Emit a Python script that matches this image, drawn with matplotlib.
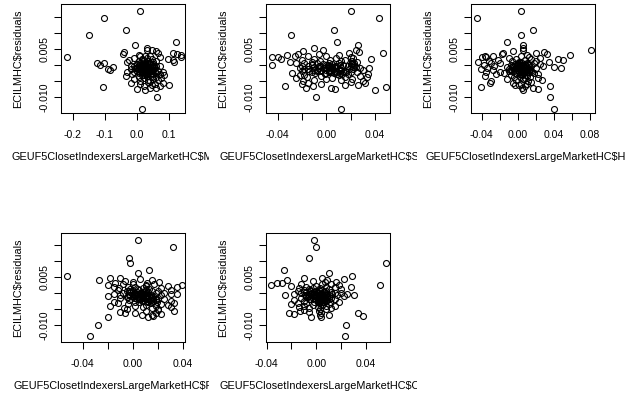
import matplotlib.pyplot as plt
from matplotlib.transforms import Bbox, TransformedBbox

plt.rcParams['font.family'] = ['Liberation Sans', 'DejaVu Sans']

# residuals (shared y of every panel)
resid = [0.0167, 0.0145, 0.0108, 0.0095, 0.0073, -0.0136, -0.0100, 0.0063, 0.0025, 0.0052,
         0.0048, 0.0046, 0.0044, 0.0041, 0.0039, 0.0037, 0.0035, 0.0033, 0.0031, 0.0030,
         0.0029, 0.0028, 0.0027, 0.0025, 0.0024, 0.0023, 0.0021, 0.0020, 0.0019, 0.0018,
         0.0017, 0.0016, 0.0015, 0.0014, 0.0013, 0.0012, 0.0011, 0.0010,
         0.0009, 0.0008, 0.0008, 0.0007, 0.0006, 0.0005, 0.0005, 0.0004, 0.0003, 0.0002,
         0.0002, 0.0001, 0.0000, 0.0000, -0.0001, -0.0002, -0.0002, -0.0003, -0.0004, -0.0004,
         -0.0005, -0.0006, -0.0006, -0.0007, -0.0008, -0.0008, -0.0009, -0.0009, -0.0010, -0.0003,
         -0.0011, -0.0012, -0.0013, -0.0014, -0.0014, -0.0015, -0.0016, -0.0017, -0.0017, -0.0018,
         -0.0019, -0.0020, -0.0020, -0.0021, -0.0022, -0.0023, -0.0024, -0.0024, -0.0025, -0.0026,
         -0.0027, -0.0028, -0.0028, -0.0029, -0.0030,
         -0.0031, -0.0032, -0.0033, -0.0035, -0.0036, -0.0037, -0.0038, -0.0040, -0.0041, -0.0042,
         -0.0044, -0.0045, -0.0046, -0.0048, -0.0050,
         -0.0052, -0.0055, -0.0057, -0.0058, -0.0060, -0.0062, -0.0063, -0.0064, -0.0066, -0.0068,
         -0.0070, -0.0072, -0.0074, -0.0077,
         -0.0001, -0.0004, -0.0007, -0.0010, -0.0013, -0.0016, -0.0019, -0.0022, -0.0005, -0.0008,
         -0.0011, -0.0014, -0.0017, -0.0020, -0.0002, -0.0006, -0.0009, -0.0012, -0.0015, -0.0018,
         0.0003, 0.0000, -0.0003, -0.0025, -0.0021, 0.0005, -0.0027, -0.0012, -0.0006, 0.0001]

mkt_rf = [0.009, -0.102, -0.036, -0.150, 0.121, 0.016, 0.061, -0.007, -0.219, 0.030,
          0.030, 0.045, 0.058, -0.040, 0.065, 0.110, -0.045, 0.125, 0.135, 0.005,
          0.010, 0.025, 0.040, 0.135, 0.070, -0.010, 0.030, 0.095, 0.015, 0.045,
          0.110, -0.025, 0.020, 0.035, 0.060, 0.005, 0.050, -0.030,
          0.115, -0.123, 0.010, 0.020, 0.030, -0.102, 0.040, 0.000, 0.050, 0.015,
          0.025, 0.035, -0.116, 0.045, 0.005, 0.060, 0.020, 0.030, -0.020, 0.070,
          0.010, 0.040, 0.025, -0.075, 0.050, 0.000, 0.015, 0.035, 0.055, -0.010,
          0.020, 0.035, -0.090, 0.045, 0.010, -0.083, 0.050, 0.030, 0.000, 0.065,
          0.040, 0.025, -0.030, 0.055, 0.015, 0.080, 0.045, 0.005, 0.035, 0.060,
          -0.015, 0.030, 0.050, 0.070, 0.020,
          0.015, 0.085, 0.030, -0.035, 0.045, 0.060, 0.005, 0.075, 0.020, 0.050,
          -0.010, 0.035, 0.065, 0.010, 0.040,
          0.035, 0.080, -0.020, 0.055, 0.010, 0.045, 0.098, 0.070, 0.020, -0.107,
          0.060, 0.040, 0.000, 0.025,
          0.010, 0.025, 0.040, 0.005, 0.020, 0.035, 0.015, 0.030, 0.045, -0.005,
          0.012, 0.028, 0.042, 0.008, 0.018, 0.033, 0.048, 0.003, 0.022, 0.038,
          0.000, 0.027, 0.014, 0.044, -0.010, 0.036, 0.024, -0.020, 0.052, 0.016]

smb = [0.020, 0.043, 0.006, -0.029, 0.009, 0.012, -0.0085, 0.026, -0.0445, -0.010,
       -0.003, 0.024, -0.019, 0.027, 0.019, 0.0466, -0.023, -0.006, -0.032, 0.010,
       -0.026, 0.000, -0.015, 0.020, -0.040, 0.008, 0.022, -0.010, 0.037, -0.037,
       0.015, -0.020, 0.003, 0.021, -0.005, 0.012, -0.012, 0.025,
       -0.030, 0.002, -0.018, 0.021, -0.008, 0.010, -0.025, 0.020, -0.003, 0.005,
       -0.012, 0.023, -0.045, 0.000, 0.014, -0.020, -0.006, 0.008, 0.018, -0.015,
       0.003, 0.024, -0.010, 0.006, 0.012, -0.002, 0.028, 0.035, -0.022, 0.001,
       0.005, -0.015, 0.022, 0.000, -0.008, 0.010, 0.030, -0.020, 0.003, 0.015,
       -0.004, 0.008, 0.020, -0.012, 0.002, 0.025, -0.028, 0.011, 0.006, -0.009,
       0.018, 0.034, -0.001, 0.013, -0.018,
       -0.022, 0.010, 0.028, -0.004, 0.033, -0.016, 0.015, 0.005, -0.025, 0.021,
       0.000, -0.010, 0.012, -0.019, 0.030,
       0.020, -0.015, 0.032, -0.020, -0.004, 0.026, 0.015, -0.034, -0.011, 0.049,
       0.004, -0.017, 0.0074, 0.040,
       -0.012, -0.005, 0.002, 0.008, -0.015, 0.012, -0.008, 0.004, 0.000, -0.003,
       0.010, -0.010, 0.006, 0.014, 0.020, 0.022, -0.006, 0.019, 0.003, -0.014,
       0.021, 0.001, 0.007, -0.001, 0.016, 0.023, 0.009, -0.018, 0.005, 0.011]

hml = [0.003, -0.045, 0.017, 0.004, -0.012, 0.040, 0.036, 0.0055, -0.035, 0.006,
       0.081, 0.006, -0.005, 0.029, -0.016, 0.020, -0.018, 0.032, 0.058, 0.010,
       -0.036, -0.028, 0.004, 0.012, -0.040, 0.025, -0.010, 0.045, -0.002, 0.015,
       -0.022, 0.050, 0.008, -0.032, 0.020, -0.006, 0.035, 0.001,
       -0.044, -0.030, 0.002, 0.010, -0.020, 0.005, 0.018, -0.003, 0.025, 0.000,
       0.008, -0.038, 0.012, 0.003, -0.008, 0.015, 0.028, -0.026, 0.006, 0.001,
       0.040, -0.012, 0.009, 0.004, -0.002, 0.020, -0.034, 0.048, 0.011, -0.005,
       -0.010, 0.002, -0.041, 0.006, 0.012, -0.028, 0.000, 0.015, 0.004, -0.006,
       0.008, -0.020, 0.003, 0.010, -0.035, 0.001, 0.018, -0.003, 0.007, -0.015,
       0.005, 0.022, -0.024, 0.002, 0.009,
       0.005, -0.008, 0.010, -0.036, 0.002, 0.014, -0.004, 0.008, 0.022, -0.012,
       0.006, 0.027, -0.002, 0.011, -0.030,
       0.015, -0.005, -0.031, 0.004, 0.010, 0.001, -0.003, 0.008, 0.036, -0.0406,
       0.017, 0.005, 0.022, 0.006,
       0.000, 0.004, -0.004, 0.008, 0.002, -0.002, 0.006, 0.010, -0.006, 0.001,
       0.005, -0.008, 0.003, 0.012, -0.001, 0.007, -0.003, 0.009, 0.014, -0.010,
       0.011, 0.004, -0.005, 0.006, 0.016, 0.000, 0.002, 0.013, -0.007, 0.008]

rmw = [0.004, 0.032, -0.003, -0.002, 0.0125, -0.034, -0.028, 0.004, 0.010, -0.0528,
       -0.010, -0.018, 0.006, -0.0267, 0.015, -0.006, 0.021, 0.000, 0.011, -0.014,
       0.000, -0.008, 0.017, 0.0387, -0.020, 0.028, 0.010, 0.002, 0.035, -0.004,
       -0.015, 0.022, 0.008, -0.011, 0.013, 0.004, -0.002, 0.030,
       0.005, -0.012, 0.010, 0.000, 0.015, -0.005, 0.020, 0.008, -0.002, 0.012,
       0.003, 0.025, -0.008, 0.006, 0.018, 0.001, -0.015, 0.009, 0.004, 0.030,
       -0.003, 0.014, 0.007, 0.022, -0.010, 0.011, 0.002, 0.016, -0.020, 0.035,
       0.010, -0.005, 0.004, 0.015, 0.008, 0.020, 0.001, 0.012, -0.010, 0.006,
       0.018, 0.003, 0.025, 0.009, 0.014, -0.003, 0.007, 0.016, 0.011, 0.030,
       0.005, -0.015, 0.019, 0.012, 0.002,
       -0.012, 0.033, 0.014, 0.022, -0.004, 0.010, 0.028, 0.002, 0.018, -0.018,
       0.008, 0.030, 0.015, -0.007, 0.020,
       -0.005, 0.020, 0.033, 0.010, -0.010, 0.018, 0.002, -0.0067, 0.022, 0.015,
       0.007, 0.016, -0.020, 0.012,
       0.002, 0.006, 0.010, 0.000, 0.004, 0.008, 0.012, 0.014, -0.002, 0.003,
       0.007, 0.011, 0.015, 0.005, 0.009, 0.001, 0.013, -0.004, 0.006, 0.016,
       0.000, 0.010, 0.004, 0.008, 0.018, -0.003, 0.012, 0.007, 0.002, 0.011]

cma = [-0.002, 0.000, -0.006, 0.056, -0.026, 0.023, 0.024, 0.010, -0.0364, 0.029,
       0.0046, -0.010, 0.022, -0.0235, 0.009, -0.003, 0.0157, 0.0067, -0.032, -0.028,
       -0.012, 0.012, 0.005, 0.051, 0.018, -0.020, 0.000, 0.028, -0.008, 0.008,
       0.015, -0.003, 0.003, -0.014, 0.010, 0.020, -0.006, 0.002,
       -0.005, 0.005, -0.010, 0.000, 0.008, -0.015, 0.003, -0.002, 0.012, -0.008,
       0.006, 0.015, -0.012, 0.001, 0.020, -0.004, 0.009, -0.018, 0.004, 0.025,
       0.030, 0.002, -0.001, 0.010, 0.017, -0.025, 0.007, 0.022, -0.006, 0.013,
       0.000, 0.005, -0.008, 0.010, 0.003, -0.003, 0.007, 0.012, -0.012, 0.002,
       0.006, 0.015, -0.005, 0.004, 0.009, -0.018, 0.001, 0.008, -0.010, 0.003,
       0.018, 0.005, -0.002, 0.011, 0.006,
       -0.015, 0.002, -0.008, 0.010, -0.020, 0.005, -0.003, 0.015, -0.010, 0.008,
       0.001, -0.014, 0.012, -0.006, 0.003,
       0.008, -0.010, -0.0135, 0.002, -0.006, 0.034, -0.022, 0.004, -0.018, 0.010,
       0.003, 0.038, 0.004, -0.004,
       -0.004, 0.000, 0.004, -0.002, 0.002, 0.006, -0.006, 0.001, -0.003, 0.003,
       -0.008, 0.007, -0.001, 0.005, -0.005, 0.008, 0.000, -0.007, 0.003, 0.010,
       -0.010, 0.002, -0.002, 0.004, 0.006, -0.004, 0.001, 0.009, -0.009, 0.005]

factor_names = ["Mkt.RF", "SMB", "HML", "RMW", "CMA"]
factors = [mkt_rf, smb, hml, rmw, cma]

x_ticks = [[-0.2, -0.1, 0.0, 0.1],
           [-0.04, -0.02, 0.0, 0.02, 0.04],
           [-0.04, -0.02, 0.0, 0.02, 0.04, 0.06, 0.08],
           [-0.04, -0.02, 0.0, 0.02, 0.04],
           [-0.04, -0.02, 0.0, 0.02, 0.04]]
x_tick_labels = [["-0.2", "-0.1", "0.0", "0.1"],
                 ["-0.04", "", "0.00", "", "0.04"],
                 ["-0.04", "", "0.00", "", "0.04", "", "0.08"],
                 ["-0.04", "", "0.00", "", "0.04"],
                 ["-0.04", "", "0.00", "", "0.04"]]
y_ticks = [-0.010, -0.005, 0.0, 0.005, 0.010, 0.015]
y_tick_labels = ["-0.010", "", "", "0.005", "", ""]

# layout, in pixels of the 626x395 picture (left, top, right, bottom)
W, H = 626, 395
boxes = [(61, 4, 184.5, 113), (266, 4, 389.5, 113), (471, 4, 595, 113),
         (61, 233, 184.5, 342), (266, 233, 390, 342)]
xlabel_left = [12, 220, 426, 13, 220]
xlims = [(-0.2363, 0.1472), (-0.0496, 0.0519), (-0.0519, 0.0855),
         (-0.0572, 0.0410), (-0.0405, 0.0594)]
ylims = [(-0.0149, 0.0190)] * 3 + [(-0.0154, 0.0188)] * 2

fig = plt.figure(figsize=(W / 100, H / 100), dpi=100)
fs = 7.6
lab_fs = 7.8

for i, (xv, name) in enumerate(zip(factors, factor_names)):
    l, t, r, b = boxes[i]
    ax = fig.add_axes([l / W, 1 - b / H, (r - l) / W, (b - t) / H])
    ax.plot(xv, resid, 'o', mfc='none', mec='black', ms=4.3, mew=0.8)
    ax.set_xlim(*xlims[i])
    ax.set_ylim(*ylims[i])
    ax.set_xticks(x_ticks[i], x_tick_labels[i])
    ax.set_yticks(y_ticks, y_tick_labels, rotation=90, va='center')
    ax.tick_params(direction='out', length=5, width=0.75, labelsize=fs, colors='black')
    ax.tick_params(axis='x', pad=7.5)
    ax.tick_params(axis='y', pad=3)
    for sp in ax.spines.values():
        sp.set_linewidth(0.75)
        sp.set_color('black')

    # x label, clipped to the panel's own figure region as R does
    col, row = i % 3, i // 3
    region = TransformedBbox(Bbox.from_extents(col / 3, 1 - (row + 1) / 2, (col + 1) / 3, 1 - row / 2),
                             fig.transFigure)
    xl = fig.text(xlabel_left[i] / W, 1 - (b + 44) / H,
                  "GEUF5ClosetIndexersLargeMarketHC$" + name,
                  ha='left', va='center', fontsize=lab_fs)
    xl.set_clip_box(region)
    xl.set_clip_on(True)
    fig.text((l - 43) / W, 1 - (t + b) / 2 / H, "ECILMHC$residuals",
             rotation=90, ha='center', va='center', fontsize=lab_fs)

fig.savefig("out.png", dpi=100)
